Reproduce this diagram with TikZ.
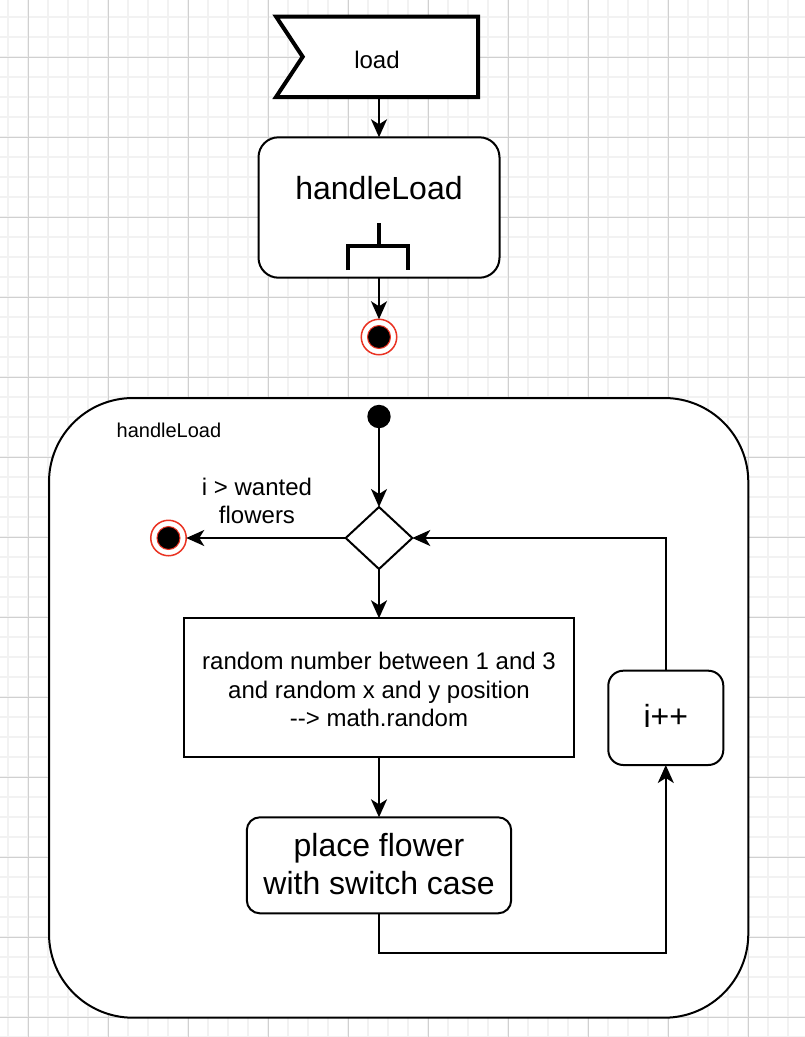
\documentclass[tikz,border=0pt]{standalone}
\usepackage{fontspec}
\setmainfont{Liberation Sans}
\usetikzlibrary{arrows.meta,shapes.geometric}
\newcommand\mystrut[2]{\rule[-#2pt]{0pt}{\dimexpr#1pt+#2pt\relax}}
\definecolor{gridminor}{HTML}{F2F2F2}
\definecolor{gridmajor}{HTML}{D0D0D0}
\definecolor{endred}{HTML}{EA3323}
\begin{document}
\begin{tikzpicture}[x=1pt,y=-1pt,
  bare/.style={inner sep=0pt, outer sep=0pt},
  box/.style={bare, draw=black, line width=2pt, fill=white},
  arr/.style={line width=2pt, -{Stealth[length=18pt,width=16pt,inset=5pt]}},
  endst/.style={bare, circle, draw=endred, line width=1.5pt, fill=white, minimum size=35.5pt},
  endcore/.style={draw=endred, line width=1pt, fill=black},
  f24/.style={font=\fontsize{24}{28.8}\selectfont},
  f32/.style={font=\fontsize{32}{38.4}\selectfont}]
\useasboundingbox (0,0) rectangle (805,1037);
\fill[white] (0,0) rectangle (805,1037);
% grid
\foreach \x in {8,28,...,788} \draw[gridminor, line width=1.5pt] (\x,0) -- (\x,1037);
\foreach \y in {17,37,...,1037} \draw[gridminor, line width=1.5pt] (0,\y) -- (805,\y);
\foreach \x in {28,108,...,748} \draw[gridmajor, line width=1pt] (\x,0) -- (\x,1037);
\foreach \y in {57,137,...,1017} \draw[gridmajor, line width=1pt] (0,\y) -- (805,\y);

% load (accept event)
\coordinate (lnw) at (276,16.5);
\coordinate (lse) at (478,97);
\draw[line width=4pt, fill=white, line join=miter] (lnw) -- (lnw -| lse) -- (lse) -- (lnw |- lse) -- (302.7,56.75) -- cycle;
\node[bare, f24, minimum width=202pt, minimum height=80.5pt] (load) at (377,56.75) {\mystrut{24}{0.6}load};

% handleLoad action
\node[box, rounded corners=20pt, minimum width=241pt, minimum height=140.4pt, f32] (hl) at (379,207.5) {\mystrut{24}{39.4}handleLoad};
\draw[line width=4pt] (378.5,223) -- (378.5,245.5) (348,270) -- (348,245.5) -- (408,245.5) -- (408,270);

% end 1
\node[endst] (end1) at (379,337) {};
\draw[endcore] (end1.center) circle[radius=11.5pt];

\draw[arr] (load.south -| hl.north) -- (hl.north);
\draw[arr] (hl.south) -- (end1.north);

% container
\node[box, rounded corners=84pt, minimum width=699.3pt, minimum height=619.7pt] (cont) at (398.65,707.85) {};
\node[bare, anchor=base west, font=\fontsize{20}{24}\selectfont] (contlabel) at (116.7,437.7) {handleLoad};

\node[bare, circle, fill=black, minimum size=23.4pt] (start) at (379,416.5) {};
\node[box, diamond, minimum width=66.6pt, minimum height=62pt] (dia) at (379,538) {};
\node[endst] (end2) at (168.5,538) {};
\draw[endcore] (end2.center) circle[radius=11.5pt];
\node[bare, anchor=north, align=center, font=\fontsize{24}{27.4}\selectfont] (guard) at (257,477.8) {\mystrut{18}{0}i > wanted\\flowers};

\node[box, minimum width=390.3pt, minimum height=138.4pt, align=center, font=\fontsize{24}{28.35}\selectfont] (rand) at (379,687.5)
  {\mystrut{21.6}{0}random number between 1 and 3\\and random x and y position\\-{}-{}> math.random\mystrut{0}{0.3}};
\node[box, rounded corners=13pt, minimum width=264.4pt, minimum height=96pt, align=center, font=\fontsize{32}{38.3}\selectfont] (place) at (379,865.3)
  {\mystrut{26}{0}place flower\\with switch case\mystrut{0}{5.3}};
\node[box, rounded corners=15pt, minimum width=115pt, minimum height=94.3pt, f32] (inc) at (665.8,717.85) {\mystrut{24}{5.3}i++};

\draw[arr] (start) -- (dia.north);
\draw[arr] (dia.west) -- (end2.east);
\draw[arr] (dia.south) -- (rand.north);
\draw[arr] (rand.south) -- (place.north);
\draw[arr] (place.south) -- ++(0,39.5) -| (inc.south);
\draw[arr] (inc.north) |- (dia.east);
\end{tikzpicture}
\end{document}
